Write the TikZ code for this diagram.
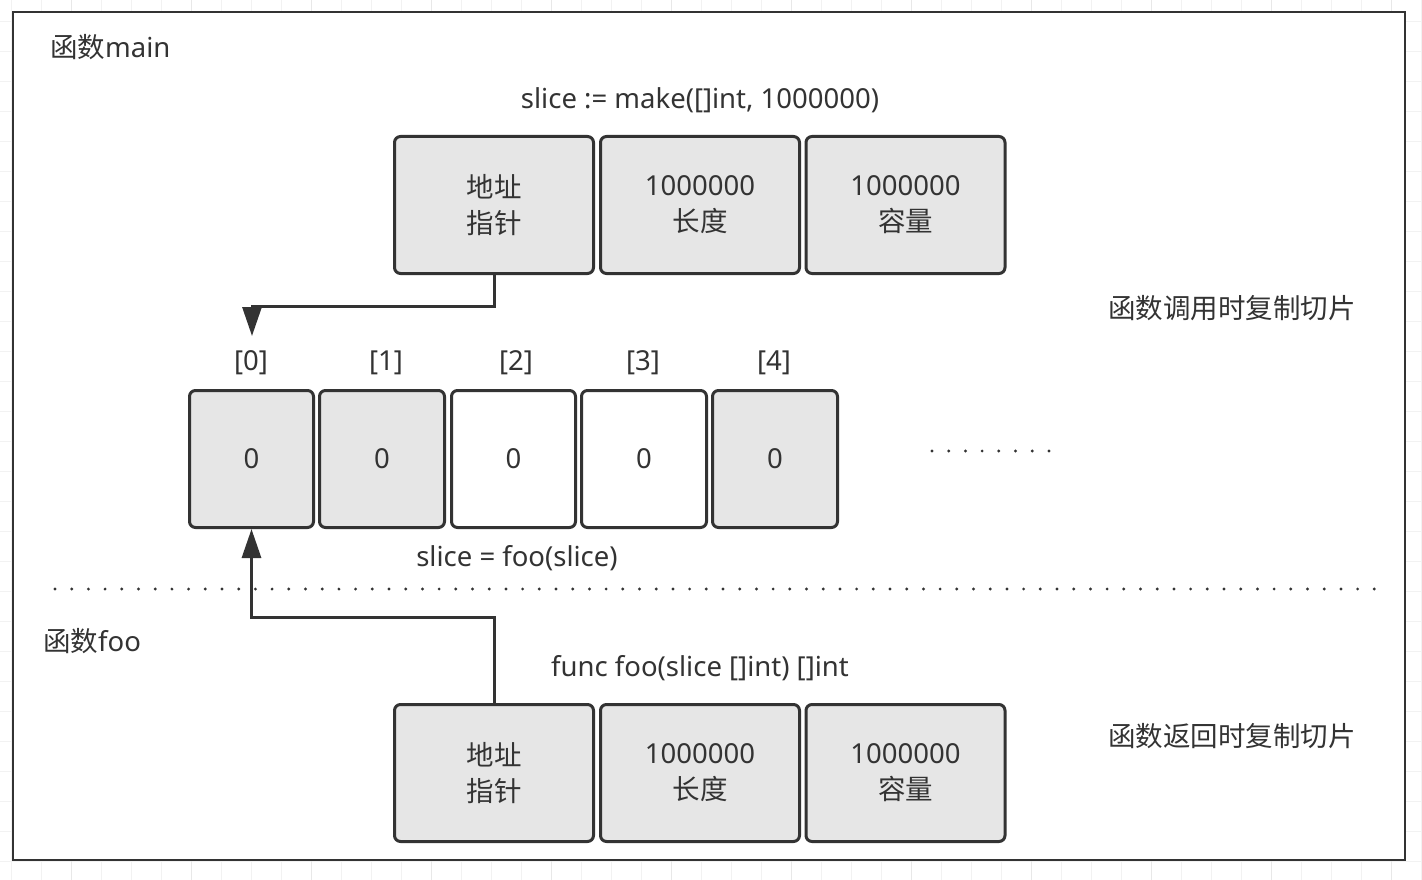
\documentclass[tikz,border=0pt]{standalone}
\usepackage{fontspec}
\setmainfont{Noto Sans}
\newfontfamily\cjk{Noto Sans CJK SC}
\usetikzlibrary{arrows.meta}
\definecolor{ink}{HTML}{333333}
\definecolor{boxgray}{HTML}{E6E6E6}
\definecolor{gridminor}{HTML}{F2F2F2}
\definecolor{gridmajor}{HTML}{E8E8E8}
\tikzset{
  cellbox/.style={draw=ink, line width=3pt, rounded corners=6pt, fill=boxgray,
    minimum width=199pt, minimum height=137pt, inner sep=0pt, align=center,
    text=ink, font=\fontsize{27.5}{36}\selectfont},
  arrcell/.style={cellbox, minimum width=124pt},
  whitecell/.style={arrcell, fill=white},
  lbl/.style={inner sep=0pt, text=ink, font=\fontsize{27.5}{36}\selectfont},
  conn/.style={draw=ink, line width=3pt, -{Triangle[width=19pt,length=29pt]}},
  dotline/.style={draw=ink, line width=3.2pt, line cap=round, dash pattern=on 0pt off 16.7pt}
}
\begin{document}
\begin{tikzpicture}[x=1pt,y=-1pt]
\useasboundingbox (0,0) rectangle (1422,880);
% background grid
\foreach \k in {0,...,47} {
  \draw[gridminor, line width=1pt] (11.7+30*\k,0) -- (11.7+30*\k,880);
}
\foreach \k in {0,...,29} {
  \draw[gridminor, line width=1pt] (0,21.7+30*\k-30) -- (1422,21.7+30*\k-30);
}
\foreach \k in {2,6,...,46} {
  \draw[gridmajor, line width=1pt] (11.7+30*\k,0) -- (11.7+30*\k,880);
}
% frame
\draw[ink, line width=2pt, fill=white] (13,12) rectangle (1404.7,860);

% labels
\node[lbl, anchor=west] (lmain) at (50,47) {{\cjk 函数}main};
\node[lbl] (lmake) at (700,100) {slice := make([]int, 1000000)};
\node[lbl] (lcall) at (1232,308) {\cjk 函数调用时复制切片};
\node[lbl] (lret) at (1232,736) {\cjk 函数返回时复制切片};
\node[lbl] (lassign) at (517,558) {slice = foo(slice)};
\node[lbl, anchor=west] (lfoo) at (43,641) {{\cjk 函数}foo};
\node[lbl] (lfunc) at (700,668) {func foo(slice []int) []int};

% top slice header
\node[cellbox] (m1) at (494,205) {{\cjk 地址}\\{\cjk 指针}};
\node[cellbox] (m2) at (700,205) {1000000\\{\cjk 长度}};
\node[cellbox] (m3) at (905.5,205) {1000000\\{\cjk 容量}};

% array
\node[lbl] (i0) at (251,363) {[0]};
\node[lbl] (i1) at (386,363) {[1]};
\node[lbl] (i2) at (516,363) {[2]};
\node[lbl] (i3) at (643,363) {[3]};
\node[lbl] (i4) at (774,363) {[4]};
\node[arrcell] (c0) at (251.5,459) {0};
\node[arrcell, minimum width=125pt] (c1) at (382,459) {0};
\node[whitecell] (c2) at (513.5,459) {0};
\node[whitecell, minimum width=125pt] (c3) at (644,459) {0};
\node[arrcell, minimum width=125pt] (c4) at (775,459) {0};
\draw[dotline] (932,451) -- (1049,451);

% separator
\draw[dotline] (55,589) -- (1377,589);

% bottom slice header
\node[cellbox] (f1) at (494,773) {{\cjk 地址}\\{\cjk 指针}};
\node[cellbox] (f2) at (700,773) {1000000\\{\cjk 长度}};
\node[cellbox] (f3) at (905.5,773) {1000000\\{\cjk 容量}};

% connectors
\coordinate (t0) at (252,336);
\draw[conn] (m1.south) -- ++(0,31) -| (t0);
\draw[conn] (f1.north) -- ++(0,-86) -| (c0.south);
\end{tikzpicture}
\end{document}
